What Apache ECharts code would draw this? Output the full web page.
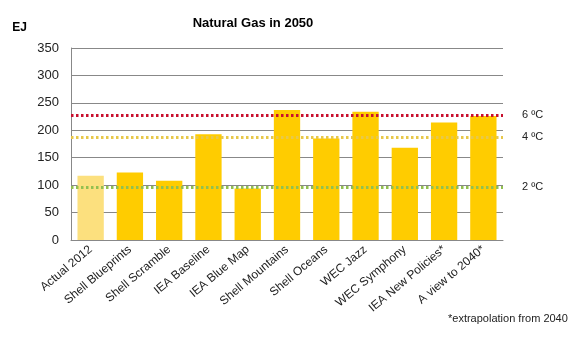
<!DOCTYPE html>
<html><head><meta charset="utf-8">
<script src="https://cdn.jsdelivr.net/npm/echarts@6/dist/echarts.min.js"></script>
<style>html,body{margin:0;padding:0;background:#fff}#c{width:588px;height:357px}</style>
</head><body><div id="c"></div>
<script>
const categories = ["Actual 2012","Shell Blueprints","Shell Scramble","IEA Baseline","IEA Blue Map","Shell Mountains","Shell Oceans","WEC Jazz","WEC Symphony","IEA New Policies*","A view to 2040*"];
const values = [117, 123, 108, 193, 94, 237, 185, 234, 168, 214, 226];
const refLabels = ["6 ºC", "4 ºC", "2 ºC"];
const refValues = [228, 188, 97];
const refColors = ["#C8102E", "#E8C84A", "#92C050"];

const chart = echarts.init(document.getElementById('c'), null, {renderer:'canvas'});
const font = '"Liberation Sans", Arial, sans-serif';
chart.setOption({
  animation:false,
  textStyle:{fontFamily:font},
  title:{text:"Natural Gas in 2050", left:248, top:12, textAlign:'center',
    textStyle:{fontSize:13, fontWeight:'bold', color:'#000', fontFamily:font}},
  grid:{left:71, right:85, top:48, bottom:117, containLabel:false},
  xAxis:{type:'category', data:categories,
    axisLine:{lineStyle:{color:'#888'}}, axisTick:{show:false},
    axisLabel:{rotate:40, interval:0, color:'#222', fontSize:12, margin:8, fontFamily:font}},
  yAxis:{type:'value', min:0, max:350, interval:50, name:'EJ',
    nameLocation:'end', nameGap:14,
    nameTextStyle:{fontWeight:'bold', fontSize:12, color:'#000', align:'right', padding:[0,44,0,0]},
    axisLine:{show:true, lineStyle:{color:'#888'}}, axisTick:{show:false},
    splitLine:{lineStyle:{color:'#888'}},
    axisLabel:{color:'#222', fontSize:13, margin:12, fontFamily:font}},
  series:[{type:'bar', barWidth:'67%',
    data: values.map((v,i)=>({value:v, itemStyle:{color: i===0 ? '#FCE07E' : '#FFCC00'}})),
    markLine:{symbol:['none','none'], silent:true,
      data: refValues.map((v,i)=>({yAxis:v,
        lineStyle:{color:refColors[i], type:[2.5,2.5], width:3},
        label:{show:true, position:'end', formatter:refLabels[i], color:'#222', fontSize:11, distance:19}}))
    }
  }],
  graphic:[{type:'text', left:448, top:313, style:{text:'*extrapolation from 2040', fill:'#222', font:'11px ' + font}}]
});
</script></body></html>
